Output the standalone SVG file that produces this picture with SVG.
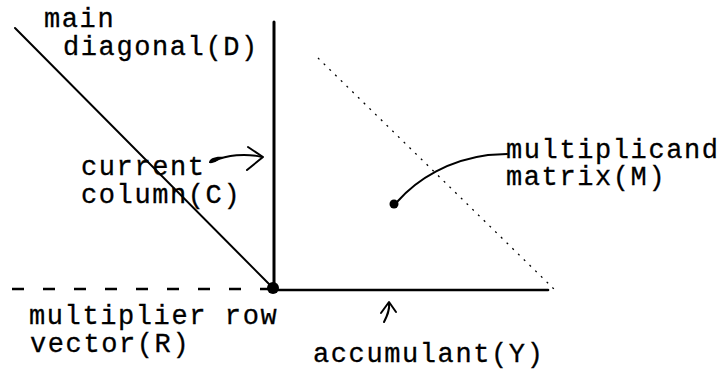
<svg xmlns="http://www.w3.org/2000/svg" width="724" height="373" viewBox="0 0 724 373">
<style>
  .lbl { font-family: "Liberation Mono", "Courier New", monospace; font-size: 27px; letter-spacing: 1.6px; fill: #000; stroke: #000; stroke-width: 0.3px; }
  .ln { stroke: #000; fill: none; stroke-linecap: round; stroke-linejoin: round; }
</style>
<rect width="724" height="373" fill="#fff"/>
<g id="connectors">
  <line class="ln" x1="15" y1="28" x2="272" y2="287" stroke-width="2"/>
  <line class="ln" x1="274" y1="22" x2="274" y2="288" stroke-width="3"/>
  <line x1="12" y1="289" x2="268" y2="289" stroke="#000" stroke-width="2.6" stroke-dasharray="12 19"/>
  <line class="ln" x1="274" y1="290" x2="548" y2="290" stroke-width="2.6"/>
  <line x1="318" y1="58" x2="555" y2="290" stroke="#000" stroke-width="1.3" stroke-dasharray="2 6"/>
  <path class="ln" d="M214,161 C227,155 245,153 262,157" stroke-width="2"/>
  <path d="M209,163 C209,158 216,156 224,157 C218,160 214,164 209,163 Z" fill="#000"/>
  <path class="ln" d="M248,147 L263,157 L247,170" stroke-width="2"/>
  <path class="ln" d="M507,154 L488,155 C450,160 418,178 397,202" stroke-width="2"/>
  <circle cx="394" cy="204" r="4.5" fill="#000"/>
  <path class="ln" d="M384,322 C387,316 390,310 389,303" stroke-width="2"/>
  <path class="ln" d="M381,313 L389,302 L396,312" stroke-width="2"/>
  <circle cx="273" cy="288" r="6" fill="#000"/>
</g>
<g id="main-diagonal">
  <text class="lbl" x="44" y="27">main</text>
  <text class="lbl" x="63" y="55">diagonal(D)</text>
</g>
<g id="current-column">
  <text class="lbl" x="81" y="175">current</text>
  <text class="lbl" x="81" y="203">column(C)</text>
</g>
<g id="multiplicand-matrix">
  <text class="lbl" x="506" y="158">multiplicand</text>
  <text class="lbl" x="506" y="185">matrix(M)</text>
</g>
<g id="multiplier-row">
  <text class="lbl" x="29" y="324">multiplier row</text>
  <text class="lbl" x="30" y="352">vector(R)</text>
</g>
<g id="accumulant">
  <text class="lbl" x="313" y="362">accumulant(Y)</text>
</g>
</svg>
